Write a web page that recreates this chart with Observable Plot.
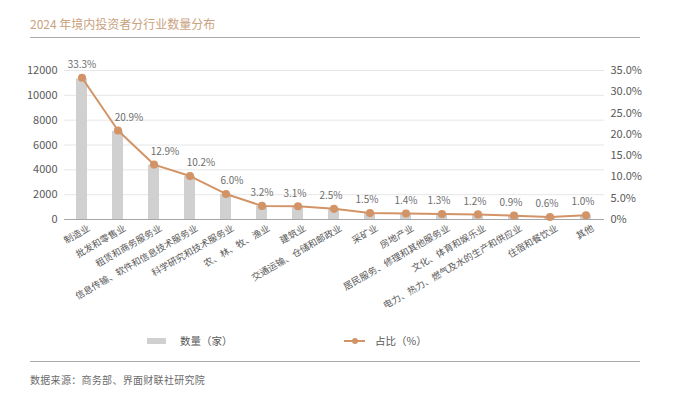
<!DOCTYPE html>
<html><head><meta charset="utf-8">
<script src="https://cdn.jsdelivr.net/npm/d3@7"></script>
<script src="https://cdn.jsdelivr.net/npm/@observablehq/plot@0.6"></script>
<style>
body{margin:0;background:#fff;font-family:"Noto Sans CJK SC","Noto Sans",sans-serif;}
#wrap{position:relative;width:674px;height:397px;overflow:hidden;background:#fff;}
#title{position:absolute;left:30px;top:15px;font-size:12px;line-height:18px;color:#c9a27e;white-space:nowrap;}
.hr{position:absolute;left:30px;width:610px;height:0;border-top:1.5px solid #aaaaaa;}
#chart{position:absolute;left:0;top:50px;}
.lg{position:absolute;font-size:10.5px;color:#595959;line-height:14px;white-space:nowrap;}
#source{position:absolute;left:30px;top:372px;font-size:10px;line-height:16px;color:#6a6a6a;white-space:nowrap;letter-spacing:0.3px;}
</style></head><body>
<div id="wrap">
  <div id="title">2024 年境内投资者分行业数量分布</div>
  <div class="hr" style="top:37px"></div>
  <div id="chart"></div>
  <div style="position:absolute;left:147px;top:338px;width:19px;height:6px;background:#d0d0d0;"></div>
  <div class="lg" style="left:180px;top:334px;">数量（家）</div>
  <div style="position:absolute;left:344px;top:340px;width:21px;height:0;border-top:2px solid #d29467;"></div>
  <div style="position:absolute;left:351.5px;top:338px;width:6px;height:6px;border-radius:3px;background:#d29467;"></div>
  <div class="lg" style="left:375px;top:334px;">占比（%）</div>
  <div class="hr" style="top:361px"></div>
  <div id="source">数据来源：商务部、界面财联社研究院</div>
</div>
<script>
const categories = ["制造业","批发和零售业","租赁和商务服务业","信息传输、软件和信息技术服务业","科学研究和技术服务业","农、林、牧、渔业","建筑业","交通运输、仓储和邮政业","采矿业","房地产业","居民服务、修理和其他服务业","文化、体育和娱乐业","电力、热力、燃气及水的生产和供应业","住宿和餐饮业","其他"];
const counts = [11320, 7100, 4390, 3470, 2040, 1090, 1050, 850, 510, 480, 440, 410, 310, 200, 340];
const shares = [33.3, 20.9, 12.9, 10.2, 6.0, 3.2, 3.1, 2.5, 1.5, 1.4, 1.3, 1.2, 0.9, 0.6, 1.0];
const countTicks = [0, 2000, 4000, 6000, 8000, 10000, 12000];
const shareTicks = [0, 5, 10, 15, 20, 25, 30, 35];

const countMax = 12000, shareMax = 35;
const k = countMax / shareMax; // maps share (%) onto the left scale
const lineColor = "#d29467";

const rows = categories.map((c, i) => ({cat: c, count: counts[i], share: shares[i], i}));
const shareFmt = v => { const p = Math.round(v / k * 10) / 10; return p === 0 ? "0%" : p.toFixed(1) + "%"; };

const labelDx = i => (i >= 1 && i <= 3) ? 11 : (i === 4 ? 6 : (i === 0 || i === 5 || i === 9) ? 0 : -3);

const chart = Plot.plot({
  width: 674,
  height: 262,
  marginLeft: 64,
  marginRight: 70,
  marginTop: 20,
  marginBottom: 93,
  style: {fontFamily: '"Noto Sans CJK SC","Noto Sans",sans-serif', fontSize: "11px", color: "#595959", background: "transparent", overflow: "visible"},
  x: {domain: categories, paddingInner: 0.69, paddingOuter: 0.345},
  y: {domain: [0, countMax]},
  marks: [
    Plot.gridY(countTicks, {stroke: "#e6e6e6", strokeOpacity: 1}),
    Plot.axisY({ticks: countTicks, tickSize: 0, tickPadding: 7, label: null, tickFormat: d => String(d)}),
    Plot.axisY({anchor: "right", ticks: shareTicks.map(s => s * k), tickSize: 0, tickPadding: 6, label: null, tickFormat: shareFmt}),
    Plot.barY(rows, {x: "cat", y: "count", fill: "#d0d0d0"}),
    Plot.ruleY([0], {stroke: "#a6a6a6", strokeWidth: 1.2}),
    Plot.axisX({tickSize: 0, tickRotate: -30, tickPadding: 8, label: null, fontSize: 9.3, dx: 7}),
    Plot.line(rows, {x: "cat", y: d => d.share * k, stroke: lineColor, strokeWidth: 2}),
    Plot.dot(rows, {x: "cat", y: d => d.share * k, r: 3.3, fill: lineColor, stroke: lineColor}),
    ...[11, 6, 0, -3].map(dx => Plot.text(rows.filter(d => labelDx(d.i) === dx), {
      x: "cat", y: d => d.share * k, text: d => d.share.toFixed(1) + "%",
      dy: -13, dx, fill: "#6e6e6e", fontSize: 10
    }))
  ]
});
document.getElementById("chart").appendChild(chart);
</script>
</body></html>
